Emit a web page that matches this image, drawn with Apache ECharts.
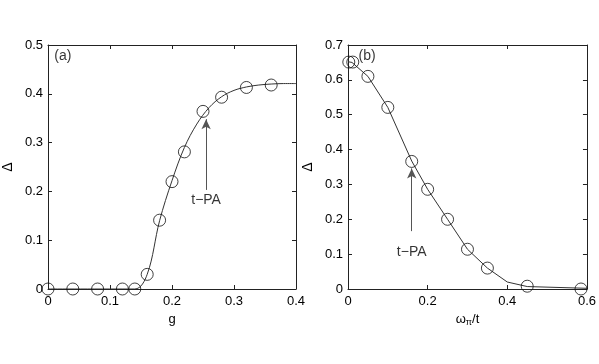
<!DOCTYPE html>
<html>
<head>
<meta charset="utf-8">
<script src="https://cdn.jsdelivr.net/npm/echarts@6/dist/echarts.min.js"></script>
<style>
  html, body { margin: 0; padding: 0; background: #fff; }
  #chart { width: 599px; height: 364px; }
</style>
</head>
<body>
<div id="chart"></div>
<script>
// panel (a): Delta vs g
var gLine = [0, 0.14, 0.16, 0.18, 0.2, 0.22, 0.24, 0.26, 0.28, 0.3, 0.32, 0.34, 0.36, 0.38, 0.4];
var dLineA = [0, 0, 0.03, 0.14, 0.222, 0.29, 0.338, 0.372, 0.394, 0.407, 0.414, 0.418, 0.42, 0.421, 0.421];
var gPts = [0, 0.04, 0.08, 0.12, 0.14, 0.16, 0.18, 0.2, 0.22, 0.25, 0.28, 0.32, 0.36];
var dPtsA = [0, 0, 0, 0, 0, 0.03, 0.141, 0.22, 0.281, 0.364, 0.393, 0.413, 0.418];

// panel (b): Delta vs omega_pi / t
var wLine = [0, 0.01, 0.05, 0.1, 0.16, 0.2, 0.25, 0.3, 0.35, 0.4, 0.45, 0.6];
var dLineB = [0.652, 0.65, 0.61, 0.521, 0.367, 0.286, 0.2, 0.114, 0.06, 0.02, 0.007, 0.002];
var wPts = [0.002, 0.012, 0.05, 0.1, 0.16, 0.2, 0.25, 0.3, 0.35, 0.45, 0.585];
var dPtsB = [0.651, 0.651, 0.61, 0.521, 0.366, 0.286, 0.2, 0.114, 0.06, 0.008, 0];

// annotations
var arrowA = [[0.255, 0.203], [0.255, 0.348]];
var arrowB = [[0.16, 0.166], [0.16, 0.346]];
var textA = [0.255, 0.183];
var textB = [0.16, 0.107];

function zip(xs, ys) { return xs.map(function (x, i) { return [x, ys[i]]; }); }

var font = 'Liberation Sans, Arial, Helvetica, sans-serif';
var axisCol = '#222';

function bottomX(grid, max, name, gap) {
  return {
    type: 'value', gridIndex: grid, min: 0, max: max, interval: 0.1 * (max > 0.4 ? 2 : 1),
    position: 'bottom',
    name: name, nameLocation: 'middle', nameGap: gap,
    nameTextStyle: { color: '#000', fontSize: 13, fontFamily: font,
      rich: {
        n: { fontSize: 13, color: '#000', fontFamily: font },
        sub: { fontSize: 9, verticalAlign: 'bottom', padding: [6, 0, 0, 0], color: '#000', fontFamily: font }
      } },
    axisLine: { show: true, onZero: false, lineStyle: { color: axisCol, width: 1 } },
    axisTick: { show: true, inside: true, length: 4, lineStyle: { color: axisCol } },
    axisLabel: { color: '#000', fontSize: 13, fontFamily: font, margin: 6,
      formatter: function (v) { return +v.toFixed(2) + ''; } },
    splitLine: { show: false }
  };
}
function topX(grid, max) {
  return {
    type: 'value', gridIndex: grid, min: 0, max: max, interval: 0.1 * (max > 0.4 ? 2 : 1),
    position: 'top',
    axisLine: { show: true, onZero: false, lineStyle: { color: axisCol, width: 1 } },
    axisTick: { show: true, inside: true, length: 4, lineStyle: { color: axisCol } },
    axisLabel: { show: false }, splitLine: { show: false }
  };
}
function leftY(grid, max) {
  return {
    type: 'value', gridIndex: grid, min: 0, max: max, interval: 0.1,
    position: 'left',
    name: 'Δ', nameLocation: 'middle', nameGap: 33,
    nameTextStyle: { color: '#000', fontSize: 14, fontFamily: font },
    axisLine: { show: true, onZero: false, lineStyle: { color: axisCol, width: 1 } },
    axisTick: { show: true, inside: true, length: 4, lineStyle: { color: axisCol } },
    axisLabel: { color: '#000', fontSize: 13, fontFamily: font, margin: 5,
      formatter: function (v) { return +v.toFixed(2) + ''; } },
    splitLine: { show: false }
  };
}
function rightY(grid, max) {
  return {
    type: 'value', gridIndex: grid, min: 0, max: max, interval: 0.1,
    position: 'right',
    axisLine: { show: true, onZero: false, lineStyle: { color: axisCol, width: 1 } },
    axisTick: { show: true, inside: true, length: 4, lineStyle: { color: axisCol } },
    axisLabel: { show: false }, splitLine: { show: false }
  };
}

function curve(xi, yi, data, smooth) {
  return {
    type: 'line', xAxisIndex: xi, yAxisIndex: yi, data: data, smooth: smooth,
    symbol: 'none', lineStyle: { color: '#333', width: 1 }, z: 2
  };
}
function markers(xi, yi, data) {
  return {
    type: 'scatter', xAxisIndex: xi, yAxisIndex: yi, data: data,
    symbol: 'circle', symbolSize: 12,
    itemStyle: { color: 'rgba(0,0,0,0)', borderColor: '#111', borderWidth: 1 }, z: 3
  };
}
function textMark(xi, yi, text, pos) {
  return {
    type: 'scatter', xAxisIndex: xi, yAxisIndex: yi, data: [pos],
    symbol: 'circle', symbolSize: 1, itemStyle: { color: 'rgba(0,0,0,0)' },
    label: { show: true, position: 'inside', formatter: text,
      color: '#000', fontSize: 14, fontFamily: font }, z: 4
  };
}
function arrow(xi, yi, pts, textPos) {
  var s = textMark(xi, yi, 't−PA', textPos);
  s.markLine = {
    silent: true, symbol: ['none', 'arrow'], symbolSize: [7, 10], precision: 3,
    label: { show: false },
    lineStyle: { color: '#555', width: 1, type: 'solid' },
    data: [[{ coord: pts[0] }, { coord: pts[1] }]]
  };
  return s;
}

var chart = echarts.init(document.getElementById('chart'));
chart.setOption({
  backgroundColor: '#fff',
  animation: false,
  grid: [
    { left: 48, right: 303, top: 45, bottom: 75 },
    { left: 348, right: 12, top: 45, bottom: 75 }
  ],
  xAxis: [
    bottomX(0, 0.4, 'g', 19), topX(0, 0.4),
    bottomX(1, 0.6, '{n|ω}{sub|π}{n|/t}', 16), topX(1, 0.6)
  ],
  yAxis: [
    leftY(0, 0.5), rightY(0, 0.5),
    leftY(1, 0.7), rightY(1, 0.7)
  ],
  series: [
    curve(0, 0, zip(gLine, dLineA), 0.35),
    markers(0, 0, zip(gPts, dPtsA)),
    arrow(0, 0, arrowA, textA),
    textMark(0, 0, '(a)', [0.024, 0.477]),
    curve(2, 2, zip(wLine, dLineB), false),
    markers(2, 2, zip(wPts, dPtsB)),
    arrow(2, 2, arrowB, textB),
    textMark(2, 2, '(b)', [0.048, 0.667])
  ]
});
</script>
</body>
</html>
